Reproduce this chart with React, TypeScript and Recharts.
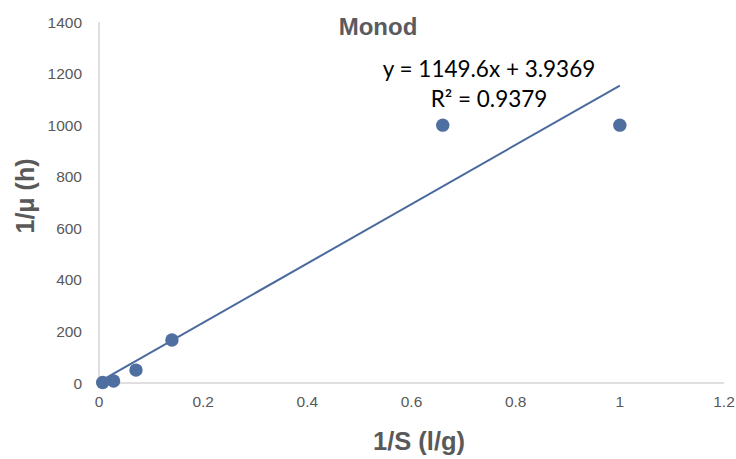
import { ScatterChart, Scatter, XAxis, YAxis } from "recharts";

// measured substrate / growth pairs (Lineweaver-Burk style)
const invS = [0.007, 0.028, 0.071, 0.14, 0.66, 1.0];
const invMu = [2, 8, 50, 167, 1000, 1000];

// linear fit shown on the chart
const slope = 1149.6;
const intercept = 3.9369;
const rSquared = 0.9379;

const xTicks = [0, 0.2, 0.4, 0.6, 0.8, 1, 1.2];
const yTicks = [0, 200, 400, 600, 800, 1000, 1200, 1400];

const points = invS.map((x, i) => ({ x, y: invMu[i] }));
const xMin = Math.min(...invS);
const xMax = Math.max(...invS);
const trend = [xMin, xMax].map((x) => ({ x, y: slope * x + intercept }));

const grey = "#595959";
const blue = "#4A6A9E";
const sans = "Liberation Sans, Arial, sans-serif";

const Dot = (props: any) => (
  <circle cx={props.cx} cy={props.cy} r={6.7} fill="#4F6FA1" />
);

export default function App() {
  return (
    <div style={{ position: "absolute", left: 0, top: 0, width: 736, height: 459, background: "#fff" }}>
      <ScatterChart
        width={736}
        height={459}
        margin={{ top: 22, right: 12, left: 39, bottom: 46 }}
      >
        <XAxis
          type="number"
          dataKey="x"
          domain={[0, 1.2]}
          ticks={xTicks}
          tickLine={false}
          axisLine={{ stroke: "#BFBFBF" }}
          tick={{ fill: grey, fontSize: 15.5, fontFamily: sans }}
          tickMargin={7}
          height={30}
        />
        <YAxis
          type="number"
          dataKey="y"
          domain={[0, 1400]}
          ticks={yTicks}
          tickLine={false}
          axisLine={{ stroke: "#BFBFBF" }}
          tick={{ fill: grey, fontSize: 15.5, fontFamily: sans }}
          tickMargin={11}
          width={60}
        />
        <Scatter
          data={trend}
          line={{ stroke: blue, strokeWidth: 2 }}
          shape={() => null}
          isAnimationActive={false}
        />
        <Scatter data={points} shape={Dot} isAnimationActive={false} />
      </ScatterChart>

      <div
        style={{
          position: "absolute",
          left: 0,
          width: 756,
          top: 12.5,
          textAlign: "center",
          fontFamily: sans,
          fontWeight: "bold",
          fontSize: 24,
          color: "#5A5A60",
        }}
      >
        Monod
      </div>
      <div
        style={{
          position: "absolute",
          left: 0,
          width: 838,
          top: 427,
          textAlign: "center",
          fontFamily: sans,
          fontWeight: "bold",
          fontSize: 25.5,
          color: grey,
        }}
      >
        1/S (l/g)
      </div>
      <div
        style={{
          position: "absolute",
          left: 24.5,
          top: 195.5,
          transform: "translate(-50%, -50%) rotate(-90deg)",
          whiteSpace: "nowrap",
          fontFamily: sans,
          fontWeight: "bold",
          fontSize: 25,
          color: grey,
        }}
      >
        1/μ (h)
      </div>
      <div
        style={{
          position: "absolute",
          left: 369,
          top: 54,
          width: 240,
          textAlign: "center",
          fontFamily: "Lato, Open Sans, sans-serif",
          fontSize: 22.5,
          lineHeight: "30px",
          color: "#000",
        }}
      >
        y = {slope}x + {intercept}
        <br />
        R² = {rSquared}
      </div>
    </div>
  );
}
